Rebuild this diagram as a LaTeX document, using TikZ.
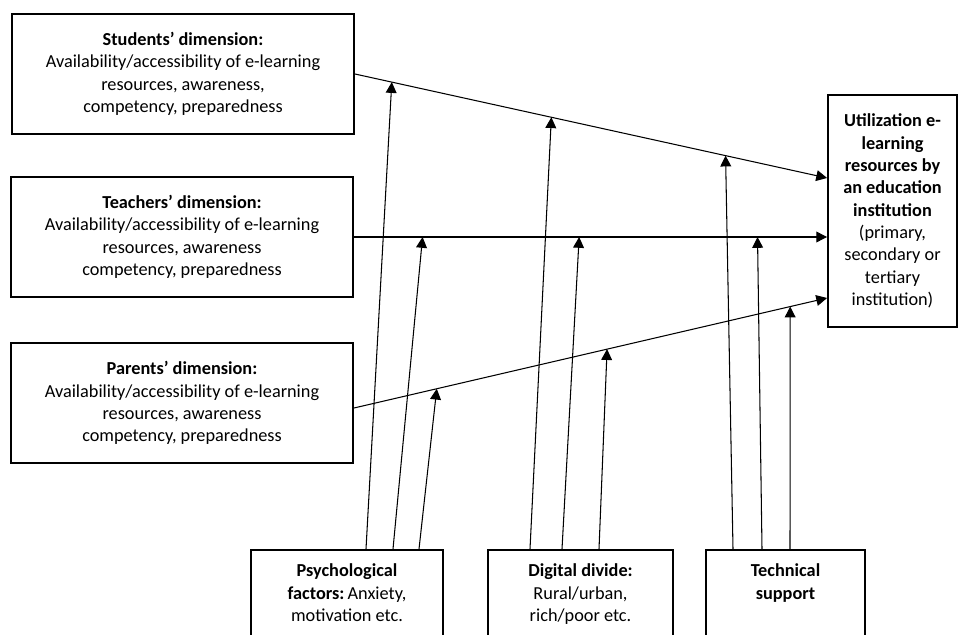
\documentclass[tikz,border=0pt]{standalone}
\usepackage{fontspec}
\setmainfont{Carlito}
\usetikzlibrary{arrows.meta, calc}

\begin{document}
\begin{tikzpicture}[x=0.025cm, y=-0.025cm, font=\fontsize{13}{15.9}\selectfont,
    dimbox/.style={draw, line width=1.3pt, align=center, minimum width=8.55cm, minimum height=3cm},
    factbox/.style={draw, line width=1.3pt, anchor=north, inner xsep=0.3cm, inner ysep=0.35cm},
    conn/.style={-{Triangle[length=0.27cm, width=0.27cm]}, line width=0.75pt}]
    \useasboundingbox (0,0) rectangle (964,635);
    \clip (0,0) rectangle (964,635);

    % dimensions
    \node[dimbox] (stu) at (183,74) {\textbf{Students’ dimension:}\\ Availability/accessibility of e-learning\\ resources, awareness,\\ competency, preparedness};
    \node[dimbox] (tea) at (182,237) {\textbf{Teachers’ dimension:}\\ Availability/accessibility of e-learning\\ resources, awareness\\ competency, preparedness};
    \node[dimbox] (par) at (182,403) {\textbf{Parents’ dimension:}\\ Availability/accessibility of e-learning\\ resources, awareness\\ competency, preparedness};

    % outcome
    \node[draw, line width=1.3pt, align=center, minimum width=3.225cm, minimum height=5.8cm] (uti) at (892.5,211)
        {\textbf{Utilization e-}\\ \textbf{learning}\\ \textbf{resources by}\\ \textbf{an education}\\ \textbf{institution}\\ (primary,\\ secondary or\\ tertiary\\ institution)};

    % factors
    \node[factbox] (psy) at (347,549) {\parbox[t][2cm][t]{4.2cm}{\centering\textbf{Psychological}\\ \textbf{factors:}\,Anxiety,\\ motivation etc.}};
    \node[factbox] (dig) at (580.5,549) {\parbox[t][2cm][t]{4.025cm}{\centering\textbf{Digital divide:}\\ Rural/urban,\\ rich/poor etc.}};
    \node[factbox] (tec) at (785.5,549) {\parbox[t][2cm][t]{3.375cm}{\centering\textbf{Technical}\\ \textbf{support}}};

    % main arrows
    \coordinate (sEnd) at ($(uti.west)+(0,-33)$);
    \coordinate (pEnd) at ($(uti.west)+(0,87)$);
    \draw[conn] (stu.east) -- coordinate[pos=0.078] (s1) coordinate[pos=0.416] (s2) coordinate[pos=0.785] (s3) (sEnd);
    \draw[conn] (tea.east) -- coordinate[pos=0.145] (t1) coordinate[pos=0.476] (t2) coordinate[pos=0.853] (t3) (uti.west |- tea.east);
    \draw[conn] ($(par.east)+(0,5)$) -- coordinate[pos=0.175] (p1) coordinate[pos=0.535] (p2) coordinate[pos=0.922] (p3) (pEnd);

    % moderating arrows
    \foreach \src/\dx/\dst in {psy/19/s1, psy/46/t1, psy/72/p1, dig/-50.5/s2, dig/-18.5/t2, dig/18.5/p2, tec/-52.5/s3, tec/-23.5/t3, tec/4.5/p3} {
        \draw[conn] ($(\src.north)+(\dx,0)$) -- (\dst);
    }
\end{tikzpicture}
\end{document}
